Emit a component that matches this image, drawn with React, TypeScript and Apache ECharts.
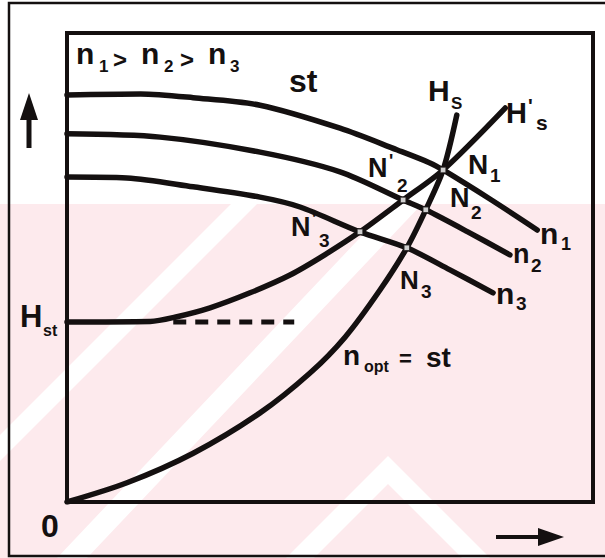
import React, { useEffect, useRef } from 'react';
import * as echarts from 'echarts';

// Pump curves H(Q) at three speeds n1 > n2 > n3 (data units: Q 0..100, H 0..100)
const pumpN1 = [[0, 86.8], [14, 87], [24, 86.2], [36.7, 84.6], [51.9, 79.7], [62.7, 75.1], [69, 72.3], [71.5, 70.8], [80.4, 64.6], [89.4, 58]];
const pumpN2 = [[0, 78.5], [17.7, 77.8], [36.7, 74.6], [51.9, 70.4], [63.9, 64.4], [68.2, 62.3], [76.2, 57.6], [84.2, 52.7]];
const pumpN3 = [[0, 69.3], [11.4, 69.1], [24, 67.2], [36.7, 65], [44.3, 62.9], [55.7, 57.6], [64.6, 54.2], [72.8, 49.5], [81, 44.6]];
// System curve with static head (H's) and system curve through origin (Hs)
const systemHsPrime = [[0, 38.4], [15.8, 38.5], [20.5, 39.4], [27.2, 41.4], [34.8, 44.6], [42.4, 48.4], [49, 52.7], [55.7, 57.6], [63.9, 64.4], [71.5, 70.8], [83.3, 84]];
const systemHs = [[0, 0], [11.4, 4.1], [24, 10.4], [36.7, 19], [46.2, 27.5], [52.9, 35.2], [59.5, 45.2], [64.6, 54.2], [68.2, 62.3], [71.5, 70.8], [74.1, 82.5]];
const staticHeadDashed = [[20.2, 38.4], [43.2, 38.4]];
// Operating points N1, N'2, N2, N'3, N3
const operatingPoints = [[71.5, 70.8], [63.9, 64.4], [68.2, 62.3], [55.7, 57.6], [64.6, 54.2]];

// Text pieces: [text, x, y (middle), fontSize]
const labelPieces: [string, number, number, number][] = [
  ['n', 76, 53, 30], ['1', 99, 66, 17], ['>', 113, 59, 24], ['n', 141, 53, 30], ['2', 164, 66, 17], ['>', 180, 59, 24], ['n', 208, 53, 30], ['3', 230, 66, 17],
  ['st', 289, 81, 32],
  ['H', 428, 90, 30], ['S', 451, 103, 17],
  ['H', 506, 113, 29], ["'", 528, 106, 20], ['s', 536, 122, 21],
  ['N', 468, 164, 28], ['1', 490, 175, 19],
  ['N', 450, 198, 27], ['2', 471, 212, 19],
  ['N', 368, 168, 27], ["'", 389, 161, 18], ['2', 397, 185, 19],
  ['N', 291, 227, 27], ["'", 312, 219, 18], ['3', 319, 240, 19],
  ['N', 400, 280, 26], ['3', 421, 291, 19],
  ['n', 540, 233, 30], ['1', 561, 244, 18],
  ['n', 513, 254, 27], ['2', 531, 265, 19],
  ['n', 496, 293, 30], ['3', 516, 303, 19],
  ['H', 20, 316, 31], ['st', 43, 330, 16],
  ['n', 343, 355, 28], ['opt', 364, 366, 16], ['=', 399, 358, 22], ['st', 426, 357, 28],
  ['0', 41, 526, 32],
];

const FONT = "'Liberation Sans', Arial, sans-serif";
const INK = '#141010';

export default function App() {
  const ref = useRef<HTMLDivElement>(null);
  useEffect(() => {
    if (!ref.current) return;
    const chart = echarts.init(ref.current, undefined, { renderer: 'svg' });
    const lineSeries = (name: string, data: number[][]) => ({
      name,
      type: 'line',
      data,
      smooth: 0.3,
      symbol: 'none',
      lineStyle: { color: INK, width: 5.5, cap: 'round' },
      z: 3,
    });
    const bandPoly = (xTop: number, xBot: number, w: number) => ({
      type: 'polygon',
      z: -9,
      silent: true,
      shape: { points: [[xTop - w / 2, 204], [xTop + w / 2, 204], [xBot + w / 2, 558], [xBot - w / 2, 558]] },
      style: { fill: '#ffffff' },
    });
    const texts = labelPieces.map(([t, x, y, s]) => ({
      type: 'text',
      x,
      y,
      z: 100,
      silent: true,
      style: {
        text: t,
        fill: INK,
        font: `bold ${s}px ${FONT}`,
        textAlign: 'left',
        textVerticalAlign: 'middle',
        align: 'left',
        verticalAlign: 'middle',
      },
    }));
    chart.setOption({
      animation: false,
      backgroundColor: '#ffffff',
      grid: { left: 67, top: 33, width: 526, height: 469, show: true, borderColor: INK, borderWidth: 4, backgroundColor: 'transparent', z: 1 },
      xAxis: { type: 'value', min: 0, max: 100, show: false },
      yAxis: { type: 'value', min: 0, max: 100, show: false },
      graphic: [
        { type: 'rect', z: -10, silent: true, shape: { x: 0, y: 204, width: 605, height: 354 }, style: { fill: '#fdeaed' } },
        bandPoly(244, -110, 26),
        bandPoly(407, 72, 30),
        {
          type: 'polygon', z: -9, silent: true,
          shape: { points: [[388, 456], [495, 563], [467, 563], [388, 484], [309, 563], [281, 563]] },
          style: { fill: '#ffffff' },
        },
        { type: 'rect', z: 50, silent: true, shape: { x: 9, y: 3, width: 600, height: 553 }, style: { fill: 'none', stroke: INK, lineWidth: 2.5 } },
        // y arrow
        { type: 'line', z: 50, silent: true, shape: { x1: 29, y1: 148, x2: 29, y2: 112 }, style: { stroke: INK, lineWidth: 5 } },
        { type: 'polygon', z: 50, silent: true, shape: { points: [[29, 93], [38, 120], [20, 120]] }, style: { fill: INK } },
        // x arrow
        { type: 'line', z: 50, silent: true, shape: { x1: 496, y1: 537, x2: 545, y2: 537 }, style: { stroke: INK, lineWidth: 4 } },
        { type: 'polygon', z: 50, silent: true, shape: { points: [[538, 528], [564, 537], [538, 546]] }, style: { fill: INK } },
        ...texts,
      ],
      series: [
        lineSeries('n1', pumpN1),
        lineSeries('n2', pumpN2),
        lineSeries('n3', pumpN3),
        lineSeries("H's", systemHsPrime),
        lineSeries('Hs', systemHs),
        {
          name: 'Hst',
          type: 'line',
          data: staticHeadDashed,
          symbol: 'none',
          lineStyle: { color: INK, width: 5, type: [13, 9] },
          z: 3,
        },
        {
          name: 'N',
          type: 'scatter',
          data: operatingPoints,
          symbol: 'rect',
          symbolSize: 6,
          itemStyle: { color: '#ffffff', borderColor: INK, borderWidth: 1.5 },
          z: 10,
        },
      ],
    });
    return () => chart.dispose();
  }, []);
  return <div ref={ref} style={{ position: 'fixed', left: 0, top: 0, width: 605, height: 558 }} />;
}
